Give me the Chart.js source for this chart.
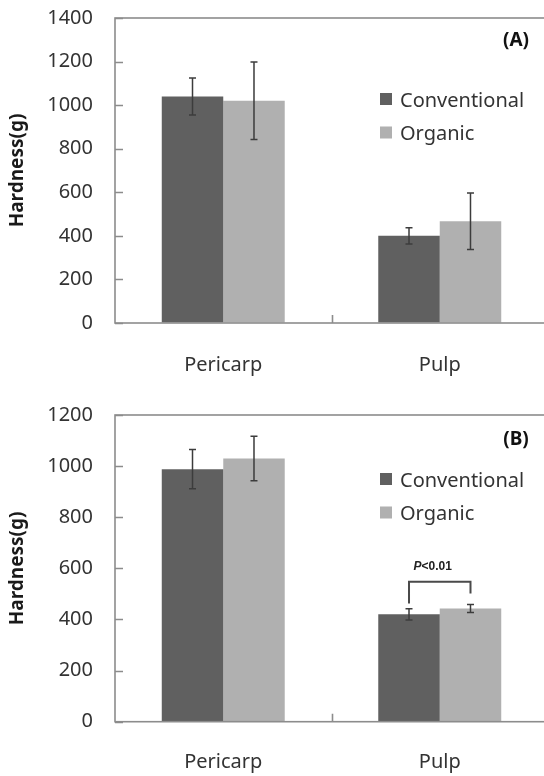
<!DOCTYPE html>
<html lang="en">
<head>
  <meta charset="UTF-8" />
  <title>Hardness - Conventional vs Organic</title>
  <script src="https://cdn.jsdelivr.net/npm/chart.js"></script>
  <style>
    html, body {
      margin: 0;
      padding: 0;
      background: #ffffff;
      overflow: hidden;
    }
    .panel {
      position: absolute;
      left: 0;
      width: 548px;
    }
    #panelA { top: 0; height: 390px; }
    #panelB { top: 390px; height: 386px; }
  </style>
</head>
<body>
  <div class="panel" id="panelA"><canvas id="chartA"></canvas></div>
  <div class="panel" id="panelB"><canvas id="chartB"></canvas></div>

  <script>
    const categories = ['Pericarp', 'Pulp'];
    const seriesNames = ['Conventional', 'Organic'];

    // panel (A)
    const conventionalA = [1040, 400];
    const organicA = [1020, 467];
    const conventionalErrA = [85, 37];
    const organicErrA = [178, 130];
    const yTicksA = [0, 200, 400, 600, 800, 1000, 1200, 1400];

    // panel (B)
    const conventionalB = [988, 420];
    const organicB = [1030, 443];
    const conventionalErrB = [77, 22];
    const organicErrB = [87, 16];
    const yTicksB = [0, 200, 400, 600, 800, 1000, 1200];

    // significance bracket over Pulp in (B), data units: top, left leg end, right leg end
    const sigText = ['P', '<0.01'];
    const sigBracket = [548, 462, 502];

    const darkGrey = '#606060';
    const lightGrey = '#b0b0b0';
    const frameColor = '#8c8c8c';
    const textColor = '#333333';
    const fontFamily = "'Noto Sans', 'DejaVu Sans', sans-serif";

    // frame, inward tick marks, error bars, legend and panel letter
    const decorations = {
      id: 'decorations',
      afterDatasetsDraw(chart, args, opts) {
        const ctx = chart.ctx;
        const area = chart.chartArea;
        const y = chart.scales.y;
        const x = chart.scales.x;
        ctx.save();

        // error bars
        ctx.strokeStyle = '#3c3c3c';
        ctx.lineWidth = 1.5;
        chart.data.datasets.forEach((ds, di) => {
          const meta = chart.getDatasetMeta(di);
          meta.data.forEach((bar, i) => {
            const v = ds.data[i], e = ds.errors[i];
            const yTop = y.getPixelForValue(v + e);
            const yBot = y.getPixelForValue(v - e);
            ctx.beginPath();
            ctx.moveTo(bar.x, yTop); ctx.lineTo(bar.x, yBot);
            ctx.moveTo(bar.x - 3.5, yTop); ctx.lineTo(bar.x + 3.5, yTop);
            ctx.moveTo(bar.x - 3.5, yBot); ctx.lineTo(bar.x + 3.5, yBot);
            ctx.stroke();
          });
        });

        // frame
        ctx.strokeStyle = frameColor;
        ctx.lineWidth = 1.6;
        ctx.strokeRect(area.left, area.top, area.right - area.left, area.bottom - area.top);

        // inward y ticks
        ctx.beginPath();
        opts.yTicks.forEach(t => {
          const py = Math.round(y.getPixelForValue(t)) + 0.5;
          ctx.moveTo(area.left, py);
          ctx.lineTo(area.left + 8, py);
        });
        // category separator tick
        for (let i = 0; i < categories.length - 1; i++) {
          const px = Math.round((x.getPixelForValue(i) + x.getPixelForValue(i + 1)) / 2) + 0.5;
          ctx.moveTo(px, area.bottom);
          ctx.lineTo(px, area.bottom - 8);
        }
        ctx.stroke();

        // legend
        ctx.font = '20px ' + fontFamily;
        ctx.textBaseline = 'middle';
        ctx.textAlign = 'left';
        chart.data.datasets.forEach((ds, di) => {
          const ly = opts.legendY + di * opts.legendGap;
          ctx.fillStyle = ds.backgroundColor;
          ctx.fillRect(opts.legendX, ly - 6, 12, 12);
          ctx.fillStyle = textColor;
          ctx.fillText(ds.label, opts.legendX + 20, ly + 2);
        });

        // panel letter
        ctx.font = 'bold 19px ' + fontFamily;
        ctx.fillStyle = '#111111';
        ctx.textAlign = 'center';
        ctx.fillText(opts.letter, 516, opts.letterY);

        ctx.restore();
      }
    };

    // significance bracket (only used by B)
    const bracket = {
      id: 'bracket',
      afterDatasetsDraw(chart, args, opts) {
        if (!opts.show) return;
        const ctx = chart.ctx;
        const y = chart.scales.y;
        const left = chart.getDatasetMeta(0).data[1].x;
        const right = chart.getDatasetMeta(1).data[1].x;
        const yTop = y.getPixelForValue(sigBracket[0]);
        ctx.save();
        ctx.strokeStyle = '#4a4a4a';
        ctx.lineWidth = 2;
        ctx.beginPath();
        ctx.moveTo(left, y.getPixelForValue(sigBracket[1]));
        ctx.lineTo(left, yTop);
        ctx.lineTo(right, yTop);
        ctx.lineTo(right, y.getPixelForValue(sigBracket[2]));
        ctx.stroke();

        ctx.fillStyle = '#222222';
        ctx.textBaseline = 'middle';
        ctx.textAlign = 'left';
        ctx.font = 'italic bold 12px "Liberation Sans", sans-serif';
        const w1 = ctx.measureText(sigText[0]).width;
        ctx.font = 'bold 12px "Liberation Sans", sans-serif';
        const w2 = ctx.measureText(sigText[1]).width;
        const cx = (left + right) / 2 - 7;
        const ty = yTop - 15;
        const sx = cx - (w1 + w2) / 2;
        ctx.font = 'italic bold 12px "Liberation Sans", sans-serif';
        ctx.fillText(sigText[0], sx, ty);
        ctx.font = 'bold 12px "Liberation Sans", sans-serif';
        ctx.fillText(sigText[1], sx + w1, ty);
        ctx.restore();
      }
    };

    function makeChart(id, conv, org, convErr, orgErr, yTicks, cfg) {
      return new Chart(document.getElementById(id), {
        type: 'bar',
        data: {
          labels: categories,
          datasets: [
            { label: seriesNames[0], data: conv, errors: convErr, backgroundColor: darkGrey },
            { label: seriesNames[1], data: org, errors: orgErr, backgroundColor: lightGrey }
          ]
        },
        options: {
          responsive: true,
          maintainAspectRatio: false,
          animation: false,
          categoryPercentage: 0.568,
          barPercentage: 1.0,
          layout: { padding: { top: cfg.padTop, left: 0, right: 0, bottom: 0 } },
          plugins: {
            legend: { display: false },
            tooltip: { enabled: false },
            decorations: {
              yTicks: yTicks,
              legendX: 380,
              legendY: cfg.legendY,
              legendGap: 33.5,
              letter: cfg.letter,
              letterY: cfg.letterY
            },
            bracket: { show: cfg.bracket }
          },
          scales: {
            x: {
              grid: { display: false },
              border: { display: false },
              ticks: {
                padding: cfg.xPad,
                color: textColor,
                font: { family: fontFamily, size: 20 }
              },
              afterFit: s => { s.height = cfg.xHeight; }
            },
            y: {
              min: 0,
              max: yTicks[yTicks.length - 1],
              // transparent tick marks only reserve the gap between labels and axis
              grid: {
                display: true,
                drawOnChartArea: false,
                drawTicks: true,
                tickLength: 22,
                tickColor: 'rgba(0,0,0,0)'
              },
              border: { display: false },
              ticks: {
                stepSize: 200,
                padding: 0,
                color: textColor,
                font: { family: fontFamily, size: 20 },
                callback: v => String(v)
              },
              title: {
                display: true,
                text: 'Hardness(g)',
                color: '#1a1a1a',
                font: { family: fontFamily, size: 19, weight: 'bold' },
                padding: { top: 6, bottom: 0 }
              },
              afterFit: s => { s.width = 115; }
            }
          }
        },
        plugins: [decorations, bracket]
      });
    }

    makeChart('chartA', conventionalA, organicA, conventionalErrA, organicErrA, yTicksA,
      { padTop: 18, xHeight: 67, xPad: 22, legendY: 99, letter: '(A)', letterY: 41, bracket: false });
    makeChart('chartB', conventionalB, organicB, conventionalErrB, organicErrB, yTicksB,
      { padTop: 25, xHeight: 54.3, xPad: 21, legendY: 89, letter: '(B)', letterY: 50, bracket: true });
  </script>
</body>
</html>
